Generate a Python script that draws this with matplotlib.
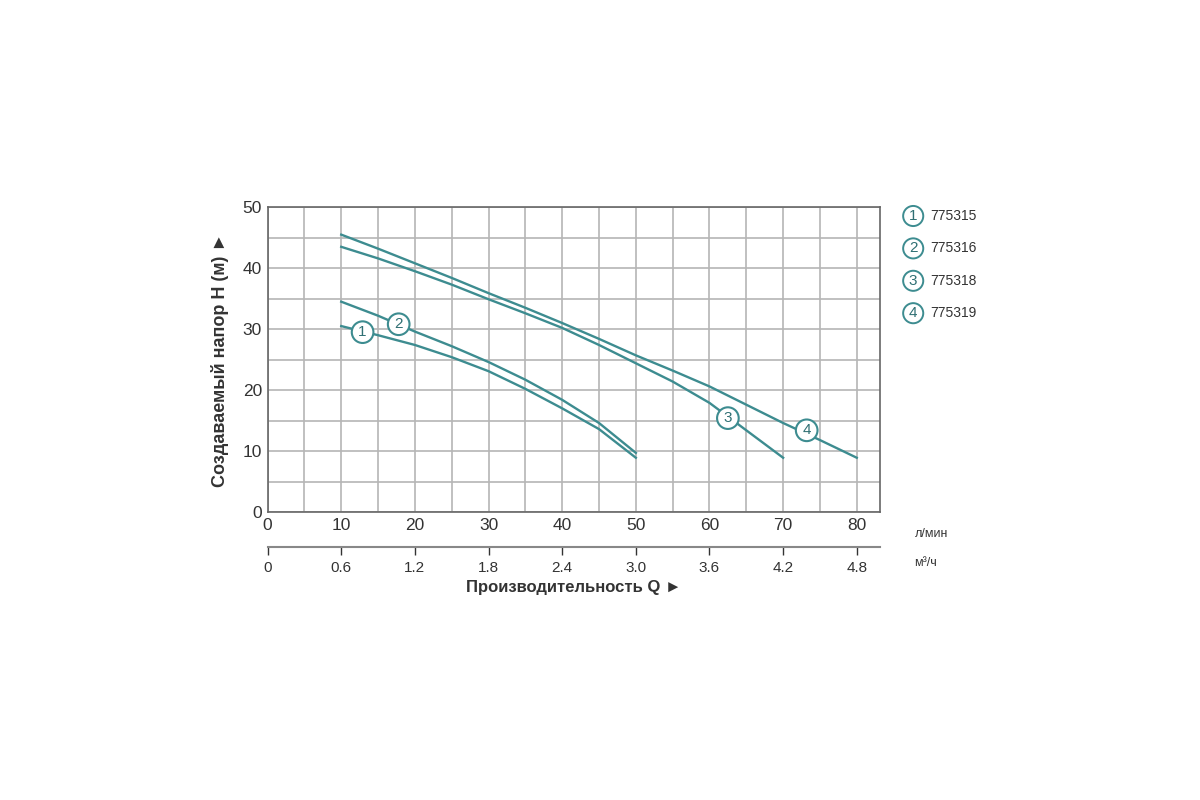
import numpy as np
import matplotlib.pyplot as plt

plt.rcParams['font.family'] = ['Liberation Sans', 'DejaVu Sans']

# Q (л/мин) and H (м)
q_1 = [10, 15, 20, 25, 30, 35, 40, 45, 50]
h_1 = [30.5, 29.0, 27.4, 25.4, 23.1, 20.2, 17.0, 13.6, 8.9]
q_2 = [10, 15, 20, 25, 30, 35, 40, 45, 50]
h_2 = [34.5, 32.2, 29.6, 27.2, 24.6, 21.7, 18.4, 14.6, 9.7]
q_3 = [10, 15, 20, 25, 30, 35, 40, 45, 50, 55, 60, 65, 70]
h_3 = [43.5, 41.6, 39.5, 37.3, 34.9, 32.6, 30.2, 27.4, 24.4, 21.4, 17.9, 13.4, 8.9]
q_4 = [10, 15, 20, 25, 30, 35, 40, 45, 50, 55, 60, 65, 70, 75, 80]
h_4 = [45.5, 43.2, 40.8, 38.4, 35.9, 33.5, 31.0, 28.4, 25.7, 23.2, 20.6, 17.6, 14.6, 11.8, 8.9]

models = ['775315', '775316', '775318', '775319']
label_pos = [(12.9, 29.5), (17.8, 30.8), (62.5, 15.4), (73.2, 13.4)]

x_ticks = [0, 10, 20, 30, 40, 50, 60, 70, 80]
m3_labels = ['0', '0.6', '1.2', '1.8', '2.4', '3.0', '3.6', '4.2', '4.8']

teal = '#3d8c90'
dark = '#2f6f73'

fig = plt.figure(figsize=(12, 8), dpi=100)
ax = fig.add_axes([0.223, 0.36, 0.51, 0.381])

for q, h in [(q_1, h_1), (q_2, h_2), (q_3, h_3), (q_4, h_4)]:
    ax.plot(q, h, color=teal, lw=1.7, zorder=3, solid_joinstyle='round')

for i, (x, y) in enumerate(label_pos):
    ax.text(x, y, str(i + 1), ha='center', va='center', fontsize=11, color=dark,
            zorder=5,
            bbox=dict(boxstyle='circle,pad=0.25', fc='white', ec=teal, lw=1.5))

ax.set_xlim(0, 83.1)
ax.set_ylim(0, 50)
ax.set_xticks(np.arange(0, 85, 5), minor=True)
ax.set_yticks(np.arange(0, 51, 5), minor=True)
ax.set_xticks(x_ticks)
ax.set_yticks([0, 10, 20, 30, 40, 50])
ax.grid(which='both', color='#b5b5b5', lw=1.2)
ax.tick_params(which='both', length=0, labelsize=12.5, colors='#333333', pad=4)
for s in ax.spines.values():
    s.set_color('#666666')
    s.set_linewidth(1.2)

ax.set_ylabel('Создаваемый напор H (м) ►', fontsize=13, fontweight='bold',
              color='#333333', labelpad=10)

# second scale in m³/ч
sec = ax.secondary_xaxis(-0.115)
sec.set_xticks(x_ticks)
sec.set_xticklabels(m3_labels)
sec.tick_params(direction='out', length=6, width=1, colors='#333333',
                labelsize=11, pad=4)
sec.spines['bottom'].set_color('#888888')
sec.spines['bottom'].set_linewidth(1.5)
sec.set_xlabel('Производительность Q ►', fontsize=12, fontweight='bold',
               color='#333333', labelpad=4)

fig.text(0.762, 0.333, 'л/мин', fontsize=9, color='#333333', va='center')
fig.text(0.762, 0.296, 'м³/ч', fontsize=9, color='#333333', va='center')

# legend
for i, m in enumerate(models):
    y = 0.73 - i * 0.0405
    fig.text(0.761, y, str(i + 1), ha='center', va='center', fontsize=11,
             color=dark,
             bbox=dict(boxstyle='circle,pad=0.2', fc='white', ec=teal, lw=1.4))
    fig.text(0.775, y, m, ha='left', va='center', fontsize=10, color='#333333')

fig.savefig('out.png', dpi=100, facecolor='white')
